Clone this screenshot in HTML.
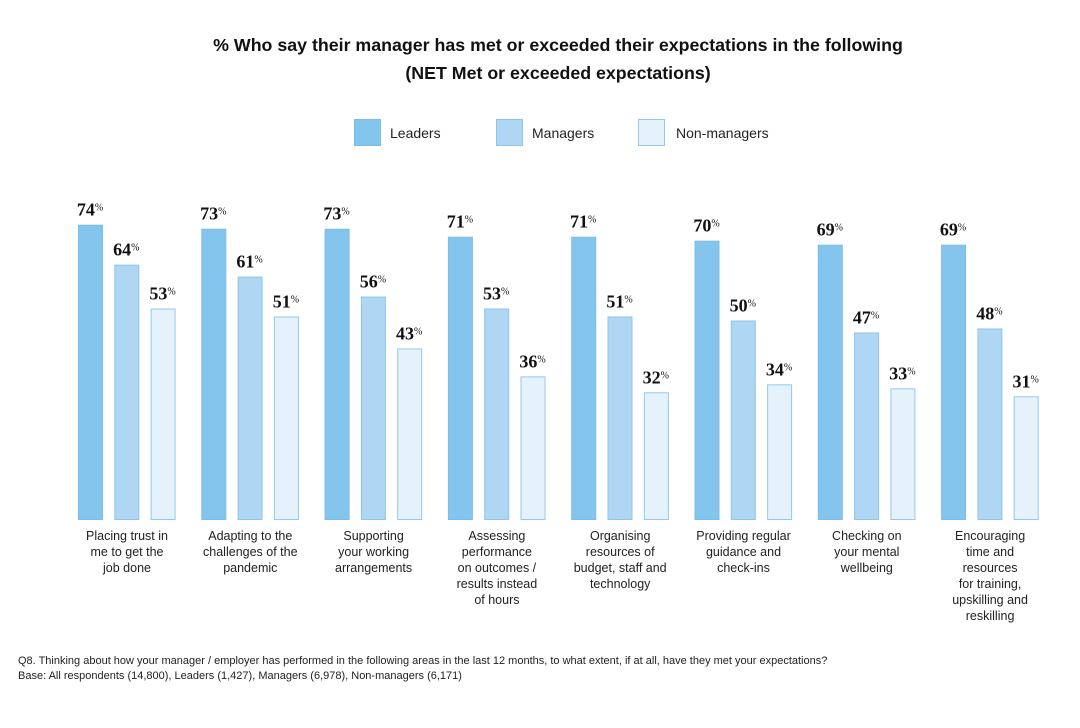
<!DOCTYPE html>
<html><head><style>
body{margin:0;background:#fff;}
svg{display:block;font-family:"Liberation Sans",sans-serif;}
.v{font-family:"Liberation Serif",serif;font-weight:bold;font-size:18px;fill:#111;}
.p{font-size:10px;font-weight:normal;}
.c{font-size:12.5px;fill:#222;}
</style></head><body>
<svg width="1080" height="728" xmlns="http://www.w3.org/2000/svg">
<text x="558" y="51" text-anchor="middle" font-size="17.8" font-weight="bold" fill="#111">% Who say their manager has met or exceeded their expectations in the following</text>
<text x="558" y="79" text-anchor="middle" font-size="17.8" font-weight="bold" fill="#111">(NET Met or exceeded expectations)</text>
<rect x="354.5" y="119.5" width="26" height="26" fill="#84c5ee" stroke="#7bbde9"/>
<text x="390" y="138" font-size="14" fill="#222">Leaders</text>
<rect x="496.5" y="119.5" width="26" height="26" fill="#afd6f3" stroke="#8cc6ec"/>
<text x="532" y="138" font-size="14" fill="#222">Managers</text>
<rect x="638.5" y="119.5" width="26" height="26" fill="#e5f1fb" stroke="#92caef"/>
<text x="676" y="138" font-size="14" fill="#222">Non-managers</text>
<g id="bars"></g>
<text x="18" y="664" font-size="11" fill="#222">Q8. Thinking about how your manager / employer has performed in the following areas in the last 12 months, to what extent, if at all, have they met your expectations?</text>
<text x="18" y="679" font-size="11" fill="#222">Base: All respondents (14,800), Leaders (1,427), Managers (6,978), Non-managers (6,171)</text>
</svg>
<script>
var d=[[74,64,53,["Placing trust in","me to get the","job done"]],[73,61,51,["Adapting to the","challenges of the","pandemic"]],[73,56,43,["Supporting","your working","arrangements"]],[71,53,36,["Assessing","performance","on outcomes /","results instead","of hours"]],[71,51,32,["Organising","resources of","budget, staff and","technology"]],[70,50,34,["Providing regular","guidance and","check-ins"]],[69,47,33,["Checking on","your mental","wellbeing"]],[69,48,31,["Encouraging","time and","resources","for training,","upskilling and","reskilling"]]];
var fills=["#84c5ee","#afd6f3","#e5f1fb"],strokes=["#7bbde9","#8cc6ec","#92caef"];
var s="";
d.forEach(function(g,i){var x0=78+i*123.3;
for(var k=0;k<3;k++){var x=x0+k*36.3,h=g[k]*3.99,y=520-h;
s+='<rect x="'+(x+0.5)+'" y="'+(y+0.5)+'" width="24" height="'+(h-1)+'" fill="'+fills[k]+'" stroke="'+strokes[k]+'"/>';
s+='<text class="v" x="'+(x+12)+'" y="'+(y-9)+'" text-anchor="middle">'+g[k]+'<tspan class="p" dy="-5">%</tspan></text>';}
var cx=x0+49;g[3].forEach(function(t,j){s+='<text class="c" x="'+cx+'" y="'+(540+j*16)+'" text-anchor="middle">'+t+'</text>';});});
document.getElementById("bars").innerHTML=s;
</script>
</body></html>
